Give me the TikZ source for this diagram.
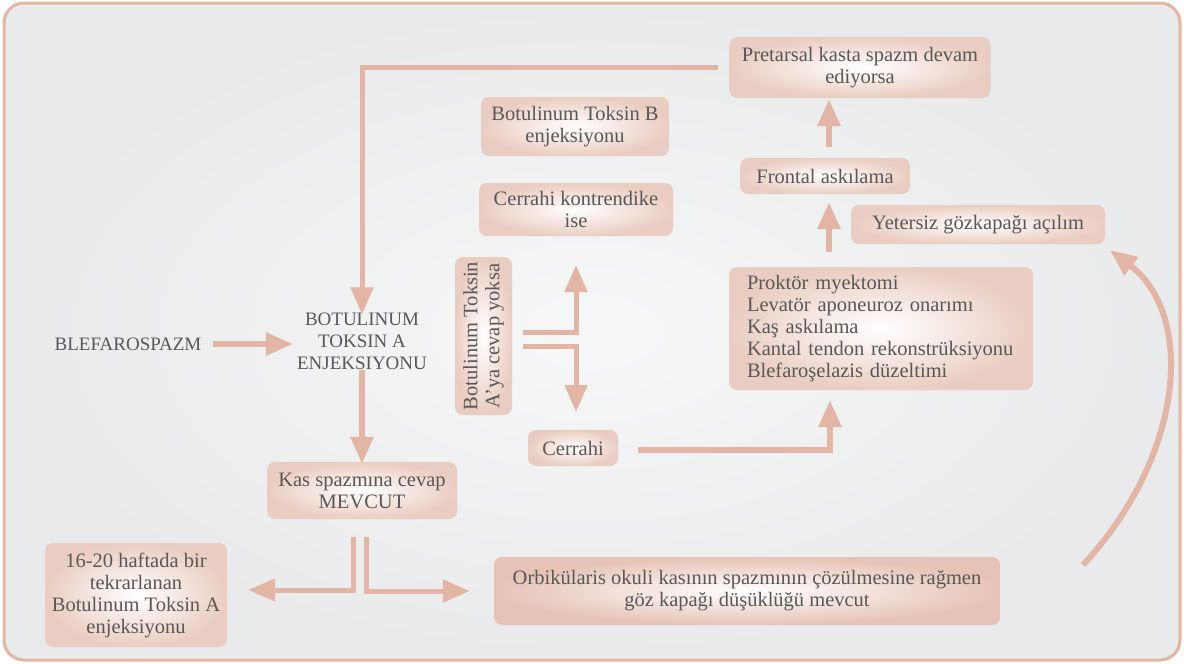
\documentclass[tikz,border=0pt]{standalone}
\usepackage{fontspec}
\setmainfont{Liberation Serif}
\usetikzlibrary{arrows.meta}
\definecolor{arr}{HTML}{E2B5A5}
\definecolor{boxo}{HTML}{EACDC2}
\definecolor{boxd}{HTML}{E6C3B6}
\definecolor{txt}{HTML}{585858}
\definecolor{bgi}{HTML}{F6F7F7}
\definecolor{bgo}{HTML}{E9EAEB}
\begin{document}
\begin{tikzpicture}[x=1pt,y=-1pt,
  font=\fontsize{20.5}{22}\selectfont, text=txt,
  box/.style={rounded corners=8pt, inner color=white, outer color=boxo, align=center, inner sep=0pt},
  caps/.style={font=\fontsize{19}{22}\selectfont, align=center, inner sep=2pt},
  flow/.style={draw=arr, line width=6pt, -{Triangle[width=22pt,length=27pt]}}]
\useasboundingbox (0,0) rectangle (1184,664);
\path[draw=arr, line width=3pt, rounded corners=20pt, inner color=bgi, outer color=bgo] (4,3) rectangle (1180,660);

\node[box, minimum width=261, minimum height=61] (pre) at (860,67.5) {Pretarsal kasta spazm devam\\ediyorsa};
\node[box, minimum width=188, minimum height=59] (btb) at (575,126.5) {Botulinum Toksin B\\enjeksiyonu};
\node[box, minimum width=194, minimum height=53] (ck) at (576,209.5) {Cerrahi kontrendike\\ise};
\node[box, minimum width=170, minimum height=36] (fa) at (825,176) {Frontal askılama};
\node[box, minimum width=254, minimum height=39] (yg) at (978,224.5) {Yetersiz gözkapağı açılım};
\node[box, minimum width=304, minimum height=123, text width=280pt, align=left, inner xsep=12pt] (pm) at (881,328.5)
  {\hspace*{6pt}Proktör myektomi\\\hspace*{6pt}Levatör aponeuroz onarımı\\\hspace*{6pt}Kaş askılama\\\hspace*{6pt}Kantal tendon rekonstrüksiyonu\\\hspace*{6pt}Blefaroşelazis düzeltimi};
\node[caps] (bl) at (128,344) {BLEFAROSPAZM};
\node[caps] (bta) at (362,341) {BOTULINUM\\TOKSIN A\\ENJEKSIYONU};
\node[box, rotate=90, minimum width=158, minimum height=57] (ny) at (483.5,336) {Botulinum Toksin\\A’ya cevap yoksa};
\node[box, minimum width=90, minimum height=36] (cer) at (573,448) {Cerrahi};
\node[box, minimum width=190, minimum height=57] (ks) at (362,490.5) {Kas spazmına cevap\\MEVCUT};
\node[box, minimum width=182, minimum height=104] (hf) at (136,595) {16-20 haftada bir\\tekrarlanan\\Botulinum Toksin A\\enjeksiyonu};
\node[box, outer color=boxd, minimum width=506, minimum height=68] (ob) at (747,591) {Orbikülaris okuli kasının spazmının çözülmesine rağmen\\göz kapağı düşüklüğü mevcut};

% connectors
\draw[flow] ([xshift=9pt]bl.east) -- ([xshift=-2pt]bl.east -| bta.west);
\draw[flow, line width=5pt] ([xshift=-11pt]pre.west) -| ([yshift=-4pt]bta.north);
\draw[flow] ([yshift=2pt]bta.south) -- ([yshift=-2pt]ks.north);
\draw[flow, line width=5pt] ([xshift=-8.5pt,yshift=-18pt]ks.south) |- ([xshift=21pt,yshift=5pt]hf.east);
\draw[flow, line width=5pt] ([xshift=4.5pt,yshift=-18pt]ks.south) |- ([xshift=-24pt]ob.west);
\coordinate (up) at (576,265);
\coordinate (dn) at (576,412);
\draw[flow, line width=5pt] ([xshift=39.5pt,yshift=4pt]ny.center) -| (up);
\draw[flow, line width=5pt] ([xshift=39.5pt,yshift=-10pt]ny.center) -| (dn);
\draw[flow] ([xshift=20pt,yshift=-2pt]cer.east) -| ([xshift=-51pt,yshift=-10pt]pm.south);
\draw[flow] ([xshift=-52pt,yshift=15pt]pm.north) -- ([xshift=4pt,yshift=-8pt]fa.south);
\draw[flow] ([xshift=4pt,yshift=11pt]fa.north) -- ([xshift=-31pt,yshift=-1pt]pre.south);
\coordinate (cs) at (1083,565);
\coordinate (ce) at (1110,250);
\draw[flow] (cs) .. controls (1185,455) and (1195,315) .. (ce);
\end{tikzpicture}
\end{document}
